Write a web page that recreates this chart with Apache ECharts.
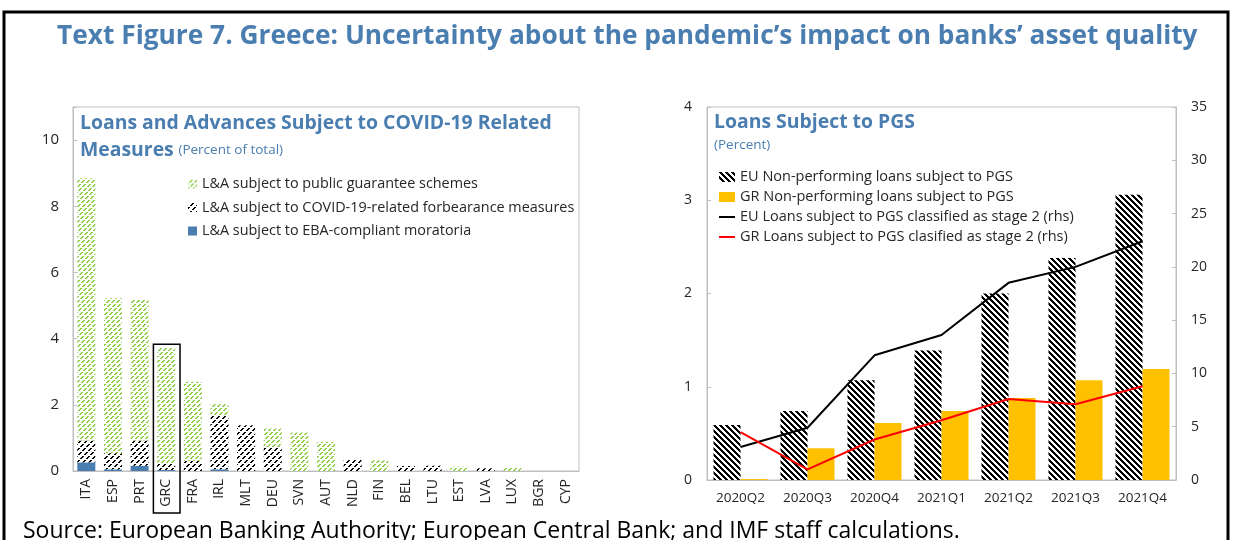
<!DOCTYPE html>
<html>
<head>
<meta charset="utf-8">
<script src="https://cdn.jsdelivr.net/npm/echarts/dist/echarts.min.js"></script>
<style>
  html, body { margin: 0; padding: 0; background: #fff; }
  #main { width: 1233px; height: 540px; }
</style>
</head>
<body>
<div id="main"></div>
<script>
// left panel: loans & advances subject to covid measures (percent of total)
var countries = ['ITA', 'ESP', 'PRT', 'GRC', 'FRA', 'IRL', 'MLT', 'DEU', 'SVN', 'AUT', 'NLD', 'FIN', 'BEL', 'LTU', 'EST', 'LVA', 'LUX', 'BGR', 'CYP'];
var moratoria = [0.26, 0.05, 0.16, 0.03, 0, 0.05, 0, 0, 0, 0, 0, 0, 0, 0, 0, 0, 0, 0, 0];
var forbearance = [0.66, 0.49, 0.76, 0.2, 0.3, 1.64, 1.38, 0.74, 0, 0, 0.33, 0, 0.15, 0.16, 0, 0.08, 0, 0, 0];
var pgs = [7.93, 4.68, 4.27, 3.5, 2.4, 0.33, 0, 0.54, 1.16, 0.88, 0, 0.32, 0, 0, 0.13, 0, 0.1, 0, 0];

// right panel: loans subject to PGS
var quarters = ['2020Q2', '2020Q3', '2020Q4', '2021Q1', '2021Q2', '2021Q3', '2021Q4'];
var euNpl = [0.59, 0.74, 1.07, 1.39, 2.0, 2.38, 3.06];
var grNpl = [0.01, 0.34, 0.61, 0.74, 0.88, 1.07, 1.19];
var euStage2 = [3.1, 4.9, 11.7, 13.6, 18.5, 20.0, 22.4];
var grStage2 = [4.5, 1.0, 3.8, 5.6, 7.6, 7.1, 8.8];

var leftTicks = [0, 2, 4, 6, 8, 10];

var FONT = 'Open Sans';
var TXT = '#262626';
var BLUE = '#4a7eb0';
var GRID_LINE = '#bfbfbf';

// hatch tiles
function makeTile(size, fg, test) {
  var c = document.createElement('canvas');
  c.width = size;
  c.height = size;
  var ctx = c.getContext('2d');
  ctx.fillStyle = '#fff';
  ctx.fillRect(0, 0, size, size);
  ctx.fillStyle = fg;
  for (var y = 0; y < size; y++) {
    for (var x = 0; x < size; x++) {
      if (test(x, y)) ctx.fillRect(x, y, 1, 1);
    }
  }
  return { image: c, repeat: 'repeat' };
}
var greenHatch = makeTile(20, '#8fce4a', function (x, y) {
  var k = (x + y) % 5;
  return (k === 3 || k === 4) && y % 4 !== 3;
});
var blackHatch = makeTile(12, '#000', function (x, y) {
  var k = (x + y) % 6;
  return (k === 4 || k === 5) && y % 4 !== 3;
});
var zebra = makeTile(6, '#000', function (x, y) {
  return (x - y + 6) % 6 < 3;
});

var chart = echarts.init(document.getElementById('main'));

var option = {
  backgroundColor: '#fff',
  animation: false,
  textStyle: { fontFamily: FONT },
  title: [{
    text: 'Text Figure 7. Greece: Uncertainty about the pandemic\u2019s impact on banks\u2019 asset quality',
    left: 52,
    top: 19,
    textStyle: { fontFamily: FONT, fontWeight: 'bold', fontSize: 26.3, color: BLUE }
  }, {
    text: '{b|Loans and Advances Subject to COVID-19 Related}\n{b|Measures} {s|(Percent of total)}',
    left: 75,
    top: 104.5,
    textStyle: {
      rich: {
        b: { fontFamily: FONT, fontWeight: 'bold', fontSize: 19.4, color: BLUE, lineHeight: 27 },
        s: { fontFamily: FONT, fontWeight: 'normal', fontSize: 13.5, color: BLUE, lineHeight: 27 }
      }
    }
  }, {
    text: '{b|Loans Subject to PGS}\n{s|(Percent)}',
    left: 709,
    top: 104,
    textStyle: {
      rich: {
        b: { fontFamily: FONT, fontWeight: 'bold', fontSize: 19.4, color: BLUE, lineHeight: 26 },
        s: { fontFamily: FONT, fontWeight: 'normal', fontSize: 13.5, color: BLUE, lineHeight: 20 }
      }
    }
  }, {
    text: 'Source: European Banking Authority; European Central Bank; and IMF staff calculations.',
    left: 18,
    top: 515,
    textStyle: { fontFamily: FONT, fontWeight: 'normal', fontSize: 23, color: '#000' }
  }],
  legend: [{
    orient: 'vertical',
    left: 183,
    top: 171,
    itemWidth: 9,
    itemHeight: 9,
    itemGap: 7.5,
    textStyle: { fontFamily: FONT, fontSize: 14.4, color: TXT, lineHeight: 16 },
    data: [
      { name: 'L&A subject to public guarantee schemes', icon: 'rect' },
      { name: 'L&A subject to COVID-19-related forbearance measures', icon: 'rect' },
      { name: 'L&A subject to EBA-compliant moratoria', icon: 'rect' }
    ]
  }, {
    orient: 'vertical',
    left: 714,
    top: 164,
    itemWidth: 16,
    itemHeight: 10,
    itemGap: 4,
    textStyle: { fontFamily: FONT, fontSize: 14.5, color: TXT, lineHeight: 16 },
    data: [
      { name: 'EU Non-performing loans subject to PGS', icon: 'rect' },
      { name: 'GR Non-performing loans subject to PGS', icon: 'rect' },
      { name: 'EU Loans subject to PGS classified as stage 2 (rhs)', icon: 'path://M0,0 H16 V2 H0 Z' },
      { name: 'GR Loans subject to PGS clasified as stage 2 (rhs)', icon: 'path://M0,0 H16 V2 H0 Z' }
    ]
  }],
  grid: [{
    left: 73, top: 107, width: 506, height: 364,
    show: true, borderColor: GRID_LINE, borderWidth: 1
  }, {
    left: 707, top: 107, width: 469, height: 373,
    show: true, borderColor: GRID_LINE, borderWidth: 1
  }],
  xAxis: [{
    type: 'category',
    gridIndex: 0,
    data: countries,
    axisLine: { lineStyle: { color: GRID_LINE } },
    axisTick: { inside: true, length: 4, lineStyle: { color: GRID_LINE } },
    axisLabel: { rotate: 90, fontSize: 14, color: TXT, margin: 8, interval: 0 }
  }, {
    type: 'category',
    gridIndex: 1,
    data: quarters,
    axisLine: { lineStyle: { color: GRID_LINE } },
    axisTick: { inside: true, length: 4, lineStyle: { color: GRID_LINE } },
    axisLabel: { fontSize: 13.5, color: TXT, margin: 11 }
  }],
  yAxis: [{
    type: 'value',
    gridIndex: 0,
    min: 0, max: 11, interval: 2,
    axisLine: { show: true, lineStyle: { color: GRID_LINE } },
    axisTick: { show: true, inside: true, length: 4, lineStyle: { color: GRID_LINE } },
    axisLabel: {
      fontSize: 15, color: TXT, margin: 14,
      formatter: function (v) { return leftTicks.indexOf(v) >= 0 ? String(v) : ''; }
    },
    splitLine: { show: false }
  }, {
    type: 'value',
    gridIndex: 1,
    min: 0, max: 4, interval: 1,
    axisLine: { show: true, lineStyle: { color: GRID_LINE } },
    axisTick: { show: true, inside: true, length: 4, lineStyle: { color: GRID_LINE } },
    axisLabel: { fontSize: 14, color: TXT, margin: 15 },
    splitLine: { show: false }
  }, {
    type: 'value',
    gridIndex: 1,
    position: 'right',
    min: 0, max: 35, interval: 5,
    axisLine: { show: true, lineStyle: { color: GRID_LINE } },
    axisTick: { show: true, inside: true, length: 4, lineStyle: { color: GRID_LINE } },
    axisLabel: { fontSize: 14, color: TXT, margin: 15 },
    splitLine: { show: false }
  }],
  series: [{
    name: 'L&A subject to EBA-compliant moratoria',
    type: 'bar', xAxisIndex: 0, yAxisIndex: 0, stack: 'la',
    barWidth: 18,
    itemStyle: { color: '#4a7eb0' },
    data: moratoria
  }, {
    name: 'L&A subject to COVID-19-related forbearance measures',
    type: 'bar', xAxisIndex: 0, yAxisIndex: 0, stack: 'la',
    barWidth: 18,
    itemStyle: { color: blackHatch },
    data: forbearance
  }, {
    name: 'L&A subject to public guarantee schemes',
    type: 'bar', xAxisIndex: 0, yAxisIndex: 0, stack: 'la',
    barWidth: 18,
    itemStyle: { color: greenHatch },
    data: pgs
  }, {
    name: 'EU Non-performing loans subject to PGS',
    type: 'bar', xAxisIndex: 1, yAxisIndex: 1,
    barWidth: 27, barGap: '0%',
    itemStyle: { color: zebra },
    data: euNpl
  }, {
    name: 'GR Non-performing loans subject to PGS',
    type: 'bar', xAxisIndex: 1, yAxisIndex: 1,
    barWidth: 27, barGap: '0%',
    itemStyle: { color: '#ffc000' },
    data: grNpl
  }, {
    name: 'EU Loans subject to PGS classified as stage 2 (rhs)',
    type: 'line', xAxisIndex: 1, yAxisIndex: 2,
    symbol: 'none', z: 5,
    itemStyle: { color: '#000' },
    lineStyle: { color: '#000', width: 2 },
    data: euStage2
  }, {
    name: 'GR Loans subject to PGS clasified as stage 2 (rhs)',
    type: 'line', xAxisIndex: 1, yAxisIndex: 2,
    symbol: 'none', z: 5,
    itemStyle: { color: '#ff0000' },
    lineStyle: { color: '#ff0000', width: 2 },
    data: grStage2
  }],
  graphic: [{
    id: 'frame',
    type: 'rect',
    shape: { x: 4, y: 12, width: 1224, height: 560 },
    style: { fill: 'none', stroke: '#000', lineWidth: 3 },
    silent: true
  }]
};

chart.setOption(option);

// box round Greece: take its place from the axis
var gi = countries.indexOf('GRC');
var cx = chart.convertToPixel({ xAxisIndex: 0 }, 'GRC');
var grcTop = moratoria[gi] + forbearance[gi] + pgs[gi];
var topY = chart.convertToPixel({ yAxisIndex: 0 }, grcTop + 0.1);
var baseY = chart.convertToPixel({ yAxisIndex: 0 }, 0);
var catW = 506 / countries.length;
chart.setOption({
  graphic: [{
    id: 'grcBox',
    type: 'rect',
    shape: { x: cx - catW / 2 + 0.5, y: topY, width: catW, height: baseY + 42 - topY },
    style: { fill: 'none', stroke: '#000', lineWidth: 1.5 },
    z: 10,
    silent: true
  }]
});
</script>
</body>
</html>
